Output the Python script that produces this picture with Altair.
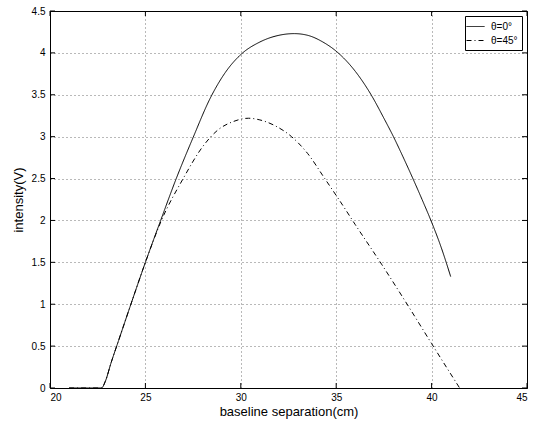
import altair as alt
import pandas as pd

# theta = 0 deg (solid)
x0 = [21.0, 22.0, 22.7, 22.9, 23.2, 23.6, 24.3, 25.0, 25.8, 26.6, 27.5, 28.4, 29.2, 30.0,
      31.0, 32.0, 32.8, 33.5, 34.3, 35.0, 36.0, 36.83, 37.5, 38.0, 38.5, 39.0, 39.5, 40.0, 40.5, 41.0]
y0 = [0.0, 0.0, 0.0, 0.08, 0.3, 0.57, 1.04, 1.5, 2.0, 2.49, 2.99, 3.46, 3.77, 3.98,
      4.13, 4.21, 4.23, 4.21, 4.13, 4.02, 3.78, 3.5, 3.22, 3.0, 2.76, 2.51, 2.25, 1.98, 1.68, 1.33]

# theta = 45 deg (dash-dot)
x45 = [21.0, 22.0, 22.7, 22.9, 23.2, 23.6, 24.3, 25.0, 25.84, 26.98, 28.0, 28.8, 29.6, 30.4,
       31.0, 31.8, 32.66, 33.5, 34.4, 35.2, 36.0, 37.4, 38.8, 40.0, 40.8, 41.47]
y45 = [0.0, 0.0, 0.0, 0.08, 0.3, 0.57, 1.04, 1.5, 2.0, 2.5, 2.88, 3.08, 3.18, 3.22,
       3.2, 3.13, 3.0, 2.8, 2.5, 2.23, 1.95, 1.47, 0.97, 0.53, 0.24, 0.0]

series = ["θ=0°", "θ=45°"]
x_ticks = [20, 25, 30, 35, 40, 45]
y_ticks = [0, 0.5, 1, 1.5, 2, 2.5, 3, 3.5, 4, 4.5]

W, H = 477, 377
FONT = "Liberation Sans"

df = pd.concat([
    pd.DataFrame({"x": x0, "y": y0, "s": series[0], "o": range(len(x0))}),
    pd.DataFrame({"x": x45, "y": y45, "s": series[1], "o": range(len(x45))}),
])

xs = alt.Scale(domain=[20, 45], nice=False, zero=False)
ys = alt.Scale(domain=[0, 4.5], nice=False)

xaxis = alt.Axis(values=x_ticks, title="baseline separation(cm)", grid=True,
                 gridDash=[1, 3], gridColor="#000", gridOpacity=0.55, ticks=False,
                 domain=False, labelPadding=4, titlePadding=3, format="~g")
yaxis = alt.Axis(values=y_ticks, title="intensity(V)", grid=True,
                 gridDash=[1, 3], gridColor="#000", gridOpacity=0.55, ticks=False,
                 domain=False, labelPadding=5, titlePadding=6, format="~g")

lines = alt.Chart(df).mark_line(strokeWidth=1, interpolate="monotone", color="black").encode(
    x=alt.X("x:Q", scale=xs, axis=xaxis),
    y=alt.Y("y:Q", scale=ys, axis=yaxis),
    order="o:Q",
    strokeDash=alt.StrokeDash("s:N", scale=alt.Scale(domain=series, range=[[1, 0], [5, 3, 1, 3]]),
                              legend=alt.Legend(title=None, orient="top-right", offset=5,
                                                strokeColor="black", fillColor="white",
                                                padding=4, symbolType="M-1.5,0H1.5",
                                                symbolSize=144, symbolStrokeWidth=1,
                                                symbolStrokeColor="black",
                                                labelFontSize=10, labelFont=FONT,
                                                rowPadding=2, labelOffset=9)),
)

xt = pd.DataFrame({"v": x_ticks})
yt = pd.DataFrame({"v": y_ticks})

tb = alt.Chart(xt).mark_rule(color="black", strokeWidth=1).encode(
    x=alt.X("v:Q", scale=xs), y=alt.value(H), y2=alt.value(H - 5))
tt = alt.Chart(xt).mark_rule(color="black", strokeWidth=1).encode(
    x=alt.X("v:Q", scale=xs), y=alt.value(0), y2=alt.value(5))
tl = alt.Chart(yt).mark_rule(color="black", strokeWidth=1).encode(
    y=alt.Y("v:Q", scale=ys), x=alt.value(0), x2=alt.value(5))
tr = alt.Chart(yt).mark_rule(color="black", strokeWidth=1).encode(
    y=alt.Y("v:Q", scale=ys), x=alt.value(W), x2=alt.value(W - 5))

chart = alt.layer(lines, tb, tt, tl, tr).properties(
    width=W, height=H,
    autosize=alt.AutoSizeParams(type="none"),
    padding={"left": 50, "top": 11, "right": 12, "bottom": 37},
    background="white",
).configure_view(stroke="black", strokeWidth=1).configure_axis(
    labelFont=FONT, titleFont=FONT, labelFontSize=10, titleFontSize=13,
    labelColor="black", titleColor="black", titleFontWeight="normal",
)

chart.save("out.html", embed_options={"renderer": "svg", "actions": False})
